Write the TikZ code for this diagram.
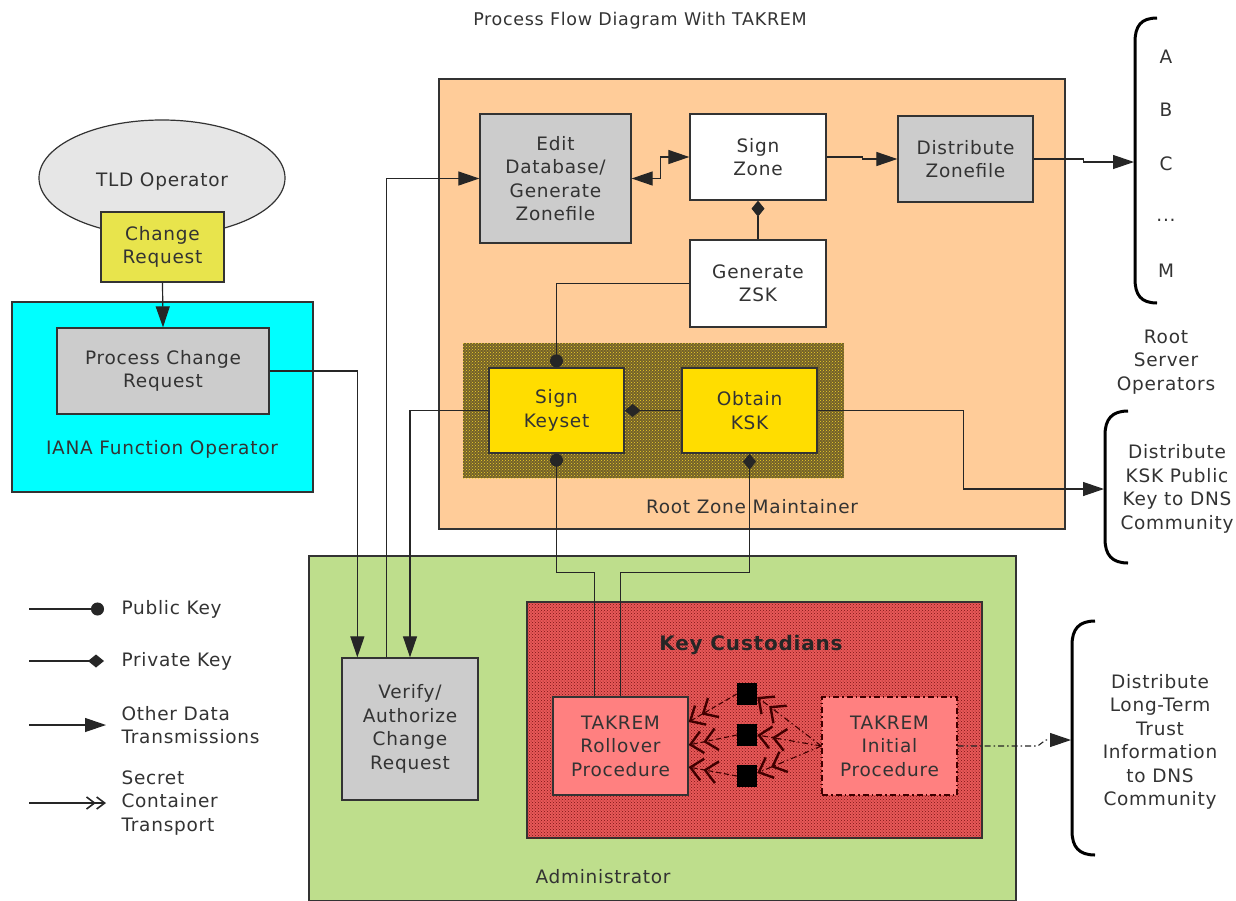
\documentclass[tikz,border=0pt]{standalone}
\usepackage{fontspec}
\setmainfont{DejaVu Sans}[LetterSpace=4]
\usetikzlibrary{arrows.meta,shapes.geometric,patterns}
\definecolor{txt}{HTML}{333333}
\definecolor{cyanbox}{HTML}{00FFFF}
\definecolor{orangebox}{HTML}{FFCC99}
\definecolor{greenbox}{HTML}{BEDE8C}
\definecolor{graybox}{HTML}{CCCCCC}
\definecolor{crbox}{HTML}{E8E44C}
\definecolor{goldbox}{HTML}{FFDD00}
\definecolor{salmon}{HTML}{FF8080}
\definecolor{olvbase}{RGB}{115,97,42}
\definecolor{olvdot}{RGB}{240,210,40}
\definecolor{redbase}{RGB}{232,88,88}
\definecolor{reddot}{RGB}{120,20,20}
\definecolor{ellgray}{HTML}{E6E6E6}
\begin{document}
\begin{tikzpicture}[x=1pt,y=-1pt,
  font=\fontsize{18.5}{23.5}\selectfont, text=txt,
  box/.style={draw=black!80, line width=1.3pt, align=center, inner sep=0pt},
  ln/.style={line width=1.2pt, draw=black!85},
  arr/.style={ln, -{Triangle[length=21pt,width=14pt]}},
  pubk/.style={ln, -{Circle[length=13pt]}},
  privk/.style={ln, -{Diamond[length=16pt,width=13pt]}},
  sec/.style={-{Straight Barb[length=12pt,width=22pt,line width=2.4pt] Straight Barb[length=12pt,width=22pt,line width=2.4pt]}},
  dd/.style={line width=1.1pt, draw=black!75!red, dash pattern=on 6pt off 3pt on 1.5pt off 3pt},
  dsh/.style={line width=1.1pt, draw=black!75!red, dash pattern=on 5pt off 3pt},
  brace/.style={line width=3pt, draw=black},
  sq/.style={fill=black, minimum width=20pt, minimum height=22pt, inner sep=0pt}]
\useasboundingbox[fill=white] (0,0) rectangle (1236,900);

% title
\node (title) at (640,21) {\fontsize{17.5}{20}\selectfont Process Flow Diagram With TAKREM};

% ---- containers
\node[box, fill=cyanbox, minimum width=301pt, minimum height=190pt] (iana) at (162.5,397) {};
\node (ianalbl) at (162,449) {IANA Function Operator};
\node[box, fill=orangebox, minimum width=626pt, minimum height=450pt] (rzm) at (752,304) {};
\node (rzmlbl) at (752,507) {Root Zone Maintainer};
\node[box, fill=greenbox, minimum width=707pt, minimum height=345pt] (admin) at (662.5,728.5) {};
\node (adminlbl) at (603,877) {Administrator};

% hatched key-signing area
\node[minimum width=381pt, minimum height=135pt, inner sep=0pt, fill=olvbase,
  postaction={pattern=crosshatch dots, pattern color=olvdot}] (ksarea) at (653.5,410.5) {};

% key custodians area
\node[box, minimum width=455pt, minimum height=236pt, fill=redbase,
  postaction={pattern=crosshatch dots, pattern color=reddot}] (kc) at (754.5,720) {};
\node (kclbl) at (751,645) {\fontsize{20}{23}\selectfont\bfseries\color{black!85}Key Custodians};

% ---- TLD operator
\node[ellipse, draw=black!80, line width=1.2pt, fill=ellgray, minimum width=246pt, minimum height=116pt, inner sep=0pt] (tld) at (162,178) {};
\node (tldlbl) at (162,182) {TLD Operator};
\node[box, fill=crbox, minimum width=123pt, minimum height=70pt] (cr) at (162.5,247) {Change\\Request};
\node[box, fill=graybox, minimum width=212pt, minimum height=86pt] (pcr) at (163,371) {Process Change\\Request};

% ---- root zone maintainer boxes
\node[box, fill=graybox, minimum width=151pt, minimum height=129pt] (edit) at (555.5,178.5) {Edit\\Database/\\Generate\\Zonefile};
\node[box, fill=white, minimum width=136pt, minimum height=86pt] (signzone) at (758,157) {Sign\\Zone};
\node[box, fill=graybox, minimum width=135pt, minimum height=86pt] (dist) at (965.5,159) {Distribute\\Zonefile};
\node[box, fill=white, minimum width=136pt, minimum height=87pt] (gzsk) at (758,283.5) {Generate\\ZSK};
\node[box, fill=goldbox, minimum width=135pt, minimum height=85pt] (signks) at (556.5,410.5) {Sign\\Keyset};
\node[box, fill=goldbox, minimum width=135pt, minimum height=85pt] (obtain) at (749.5,410.5) {Obtain\\KSK};

% ---- administrator boxes
\node[box, fill=graybox, minimum width=136pt, minimum height=142pt] (verify) at (410,729) {Verify/\\Authorize\\Change\\Request};
\node[box, fill=salmon, minimum width=135pt, minimum height=98pt] (roll) at (620.5,746) {TAKREM\\Rollover\\Procedure};
\node[box, draw=black!75!red, fill=salmon, dash pattern=on 6pt off 3pt on 1.5pt off 3pt, minimum width=135pt, minimum height=98pt] (init) at (889.5,746) {TAKREM\\Initial\\Procedure};
\node[sq] (s1) at (747,694) {};
\node[sq] (s2) at (747,735) {};
\node[sq] (s3) at (747,776) {};

% ---- braces on the right
\draw[brace] (1157,18) .. controls (1141,18) and (1135,26) .. (1135,42) -- (1135,279) .. controls (1135,295) and (1141,303) .. (1157,303);
\coordinate (rsbr) at (1134,162);
\node (lA) at (1166,57) {A};
\node (lB) at (1166,110) {B};
\node (lC) at (1166,164) {C};
\node (ldots) at (1166,220) {...};
\node (lM) at (1166,271) {M};
\node[align=center] (rso) at (1166,362) {Root\\Server\\Operators};

\draw[brace] (1128,411) .. controls (1112,411) and (1105,419) .. (1105,435) -- (1105,539) .. controls (1105,555) and (1112,563) .. (1128,563);
\coordinate (kskbr) at (1104,489);
\node[align=center] (kskt) at (1177,489) {Distribute\\KSK Public\\Key to DNS\\Community};

\draw[brace] (1095,621) .. controls (1079,621) and (1072,629) .. (1072,645) -- (1072,831) .. controls (1072,847) and (1079,855) .. (1095,855);
\coordinate (ltbr) at (1071,740);
\node[align=center] (ltt) at (1160,742) {Distribute\\Long-Term\\Trust\\Information\\to DNS\\Community};

% ---- connectors
\draw[arr] (cr.south) -- (pcr.north);
\draw[arr] (pcr.east) -| ([xshift=16pt]verify.north west);
\draw[arr] ([xshift=45pt]verify.north west) |- (edit.west);
\draw[arr] (signks.west) -| (verify.north);
\draw[ln, {Triangle[length=21pt,width=14pt]}-{Triangle[length=21pt,width=14pt]}] (edit.east) -- ++(29,0) |- (signzone.west);
\draw[arr] (signzone.east) -- ++(36,0) |- (dist.west);
\draw[arr] (dist.east) -- ++(50,0) |- (rsbr);
\draw[privk] (gzsk.north) -- (signzone.south);
\draw[pubk] (gzsk.west) -| (signks.north);
\draw[privk] (obtain.west) -- (signks.east);
\draw[arr] (obtain.east) -- ++(146,0) |- (kskbr);
\draw[pubk] ([xshift=42pt]roll.north west) -- ++(0,-124) -| (signks.south);
\draw[privk] ([xshift=68pt]roll.north west) -- ++(0,-124) -| (obtain.south);

\draw[dd, sec] (init.west) -- ([yshift=-3pt]s1.east);
\draw[dd, sec] (init.west) -- (s2.east);
\draw[dd, sec] (init.west) -- ([yshift=3pt]s3.east);
\draw[dsh, sec] (s1.west) -- ([yshift=24pt]roll.east);
\draw[dsh, sec] (s2.west) -- ([yshift=1pt]roll.east);
\draw[dsh, sec] (s3.west) -- ([yshift=-21pt]roll.east);
\draw[dd, -{Triangle[length=21pt,width=14pt]}, draw=black!85] (init.east) -- ++(80,0) -- ++(8,-6) -- (ltbr);

% ---- legend
\coordinate (l1a) at (29,609); \coordinate (l1b) at (104,609);
\coordinate (l2a) at (29,661); \coordinate (l2b) at (104,661);
\coordinate (l3a) at (29,725); \coordinate (l3b) at (106,725);
\coordinate (l4a) at (29,803); \coordinate (l4b) at (106,803);
\draw[pubk] (l1a) -- (l1b);
\draw[privk] (l2a) -- (l2b);
\draw[arr] (l3a) -- (l3b);
\draw[ln, -{Straight Barb[length=8pt,width=12pt,line width=1.6pt] Straight Barb[length=8pt,width=12pt,line width=1.6pt]}] (l4a) -- (l4b);
\node[anchor=west] (t1) at (118,609) {Public Key};
\node[anchor=west] (t2) at (118,661) {Private Key};
\node[anchor=west, align=left] (t3) at (118,725) {Other Data\\Transmissions};
\node[anchor=west, align=left] (t4) at (118,803) {Secret\\Container\\Transport};
\end{tikzpicture}
\end{document}
